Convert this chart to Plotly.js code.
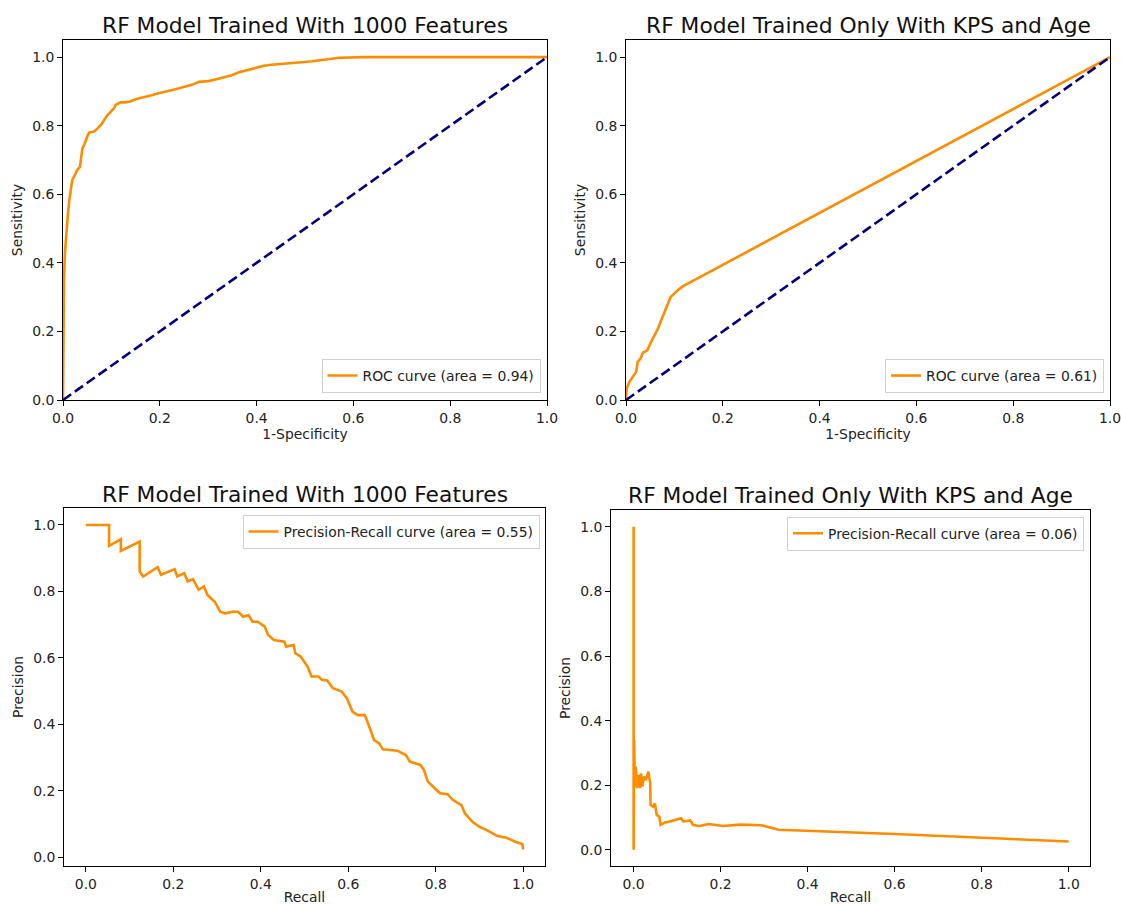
<!DOCTYPE html>
<html>
<head>
<meta charset="utf-8">
<script src="https://cdn.plot.ly/plotly-3.0.1.min.js"></script>
<style>html,body{margin:0;padding:0;background:#fff;}#chart{width:1121px;height:905px;}</style>
</head>
<body>
<div id="chart"></div>
<script>
// ---- Data ----
const titles = [
  "RF Model Trained With 1000 Features",
  "RF Model Trained Only With KPS and Age",
  "RF Model Trained With 1000 Features",
  "RF Model Trained Only With KPS and Age"
];
const legendLabels = [
  "ROC curve (area = 0.94)",
  "ROC curve (area = 0.61)",
  "Precision-Recall curve (area = 0.55)",
  "Precision-Recall curve (area = 0.06)"
];
const tickVals = [0, 0.2, 0.4, 0.6, 0.8, 1.0];

const roc1X = [0,0.001,0.002,0.004,0.007,0.010,0.013,0.016,0.019,0.023,0.026,0.030,0.035,0.038,0.040,0.044,0.047,0.051,0.054,0.060,0.064,0.070,0.075,0.080,0.085,0.088,0.092,0.097,0.102,0.106,0.109,0.114,0.119,0.128,0.137,0.150,0.160,0.171,0.183,0.195,0.210,0.226,0.240,0.254,0.268,0.281,0.300,0.315,0.330,0.349,0.362,0.379,0.392,0.401,0.415,0.430,0.460,0.480,0.493,0.515,0.534,0.555,0.571,0.590,0.608,0.62,1.0];
const roc1Y = [0,0.2,0.35,0.43,0.496,0.54,0.583,0.61,0.641,0.652,0.661,0.672,0.68,0.71,0.734,0.745,0.758,0.772,0.78,0.782,0.783,0.79,0.797,0.805,0.817,0.824,0.831,0.838,0.846,0.852,0.861,0.865,0.868,0.868,0.87,0.877,0.88,0.885,0.889,0.894,0.898,0.904,0.909,0.914,0.92,0.928,0.93,0.935,0.94,0.947,0.955,0.961,0.966,0.971,0.975,0.978,0.981,0.982,0.985,0.988,0.992,0.995,0.998,0.999,1.0,1.0,1.0];

const roc2X = [0,0.0015,0.007,0.015,0.021,0.024,0.030,0.035,0.044,0.052,0.059,0.066,0.074,0.083,0.092,0.107,0.118,1.0];
const roc2Y = [0,0.034,0.053,0.068,0.082,0.111,0.121,0.138,0.145,0.17,0.189,0.208,0.237,0.266,0.3,0.32,0.332,1.0];

const chanceX = [0, 1];
const chanceY = [0, 1];

const pr1Recall = [0,0.053,0.053,0.080,0.080,0.123,0.123,0.131,0.164,0.172,0.203,0.209,0.225,0.233,0.245,0.258,0.27,0.278,0.295,0.307,0.319,0.336,0.348,0.36,0.372,0.381,0.393,0.409,0.417,0.43,0.454,0.458,0.475,0.479,0.491,0.507,0.516,0.532,0.54,0.552,0.565,0.585,0.597,0.61,0.622,0.638,0.651,0.659,0.671,0.679,0.712,0.732,0.741,0.765,0.773,0.782,0.798,0.81,0.827,0.839,0.859,0.867,0.884,0.9,0.917,0.941,0.962,0.982,0.998,1.0];
const pr1Precision = [1.0,1.0,0.937,0.957,0.922,0.950,0.86,0.845,0.873,0.850,0.867,0.845,0.855,0.83,0.837,0.805,0.815,0.789,0.769,0.739,0.734,0.739,0.739,0.724,0.729,0.709,0.709,0.694,0.669,0.654,0.649,0.634,0.639,0.614,0.604,0.574,0.544,0.544,0.534,0.532,0.509,0.499,0.478,0.438,0.428,0.428,0.383,0.353,0.343,0.325,0.321,0.308,0.288,0.278,0.263,0.228,0.208,0.193,0.19,0.173,0.157,0.132,0.107,0.092,0.082,0.064,0.059,0.047,0.040,0.024];

const pr2Recall = [0,0,0.001,0.003,0.005,0.008,0.011,0.015,0.017,0.02,0.024,0.028,0.034,0.038,0.039,0.045,0.049,0.053,0.059,0.062,0.072,0.083,0.099,0.109,0.114,0.13,0.137,0.152,0.172,0.206,0.244,0.294,0.333,0.6,1.0];
const pr2Precision = [1.0,0.0,0.340,0.196,0.258,0.191,0.232,0.191,0.237,0.196,0.227,0.216,0.242,0.206,0.139,0.134,0.144,0.108,0.103,0.077,0.085,0.088,0.093,0.098,0.088,0.091,0.077,0.074,0.08,0.074,0.078,0.076,0.062,0.049,0.026];

// ---- Styling ----
const ORANGE = "#FF8C00";
const NAVY = "#000080";
const FONT = "DejaVu Sans";
const FS = 13.9;
const W = 1121, H = 905;

function curve(x, y, xa, ya, name, leg) {
  return {x: x, y: y, xaxis: xa, yaxis: ya, type: "scatter", mode: "lines",
    name: name, legend: leg, line: {color: ORANGE, width: 2.6}, hoverinfo: "skip"};
}
function chance(xa, ya) {
  return {x: chanceX, y: chanceY, xaxis: xa, yaxis: ya, type: "scatter", mode: "lines",
    showlegend: false, line: {color: NAVY, width: 2.6, dash: "10px,4.5px"}, hoverinfo: "skip"};
}

const data = [
  curve(roc1X, roc1Y, "x", "y", legendLabels[0], "legend"),
  chance("x", "y"),
  curve(roc2X, roc2Y, "x2", "y2", legendLabels[1], "legend2"),
  chance("x2", "y2"),
  curve(pr1Recall, pr1Precision, "x3", "y3", legendLabels[2], "legend3"),
  curve(pr2Recall, pr2Precision, "x4", "y4", legendLabels[3], "legend4")
];

function axis(domain, range, anchor, title, standoff) {
  return {
    domain: domain, range: range, anchor: anchor,
    showline: true, mirror: true, linecolor: "#000", linewidth: 1,
    ticks: "outside", ticklen: 5, tickwidth: 1, tickcolor: "#000",
    tickvals: tickVals, tickformat: ".1f", ticklabeloverflow: "allow",
    showgrid: false, zeroline: false, fixedrange: true,
    tickfont: {family: FONT, size: FS, color: "#222"},
    title: {text: title, standoff: standoff, font: {family: FONT, size: FS, color: "#222"}}
  };
}
const px = v => v / W;
const py = v => 1 - v / H;

function legendAt(x, y, xanchor, yanchor) {
  return {x: x, y: y, xanchor: xanchor, yanchor: yanchor, xref: "paper", yref: "paper",
    bgcolor: "rgba(255,255,255,0.8)", bordercolor: "#d0d0d0", borderwidth: 1,
    font: {family: FONT, size: FS, color: "#222"}, tracegroupgap: 0};
}

function titleAnn(text, cx, cy) {
  return {text: text, x: px(cx), y: py(cy), xref: "paper", yref: "paper",
    xanchor: "center", yanchor: "middle", showarrow: false,
    font: {family: FONT, size: 21.8, color: "#111"}};
}

const layout = {
  width: W, height: H,
  margin: {l: 0, r: 0, t: 0, b: 0},
  paper_bgcolor: "#fff", plot_bgcolor: "#fff",
  font: {family: FONT, size: FS, color: "#222"},
  xaxis:  axis([px(63), px(547)], [0, 1], "y", "1-Specificity", 4),
  yaxis:  axis([py(400), py(40)], [0, 1.05], "x", "Sensitivity", 6),
  xaxis2: axis([px(626), px(1110)], [0, 1], "y2", "1-Specificity", 4),
  yaxis2: axis([py(400), py(40)], [0, 1.05], "x2", "Sensitivity", 6),
  xaxis3: axis([px(64), px(545)], [-0.05, 1.05], "y3", "Recall", 4),
  yaxis3: axis([py(866), py(508)], [-0.026, 1.051], "x3", "Precision", 6),
  xaxis4: axis([px(611), px(1090)], [-0.052, 1.049], "y4", "Recall", 4),
  yaxis4: axis([py(866), py(510)], [-0.05, 1.052], "x4", "Precision", 6),
  legend:  legendAt(px(540.5), py(393), "right", "bottom"),
  legend2: legendAt(px(1104), py(393), "right", "bottom"),
  legend3: legendAt(px(539.5), py(515), "right", "top"),
  legend4: legendAt(px(1084), py(516.7), "right", "top"),
  annotations: [
    titleAnn(titles[0], 305, 25),
    titleAnn(titles[1], 868, 25),
    titleAnn(titles[2], 305, 494),
    titleAnn(titles[3], 850.5, 495)
  ]
};

Plotly.newPlot("chart", data, layout, {displayModeBar: false, staticPlot: true});
</script>
</body>
</html>
